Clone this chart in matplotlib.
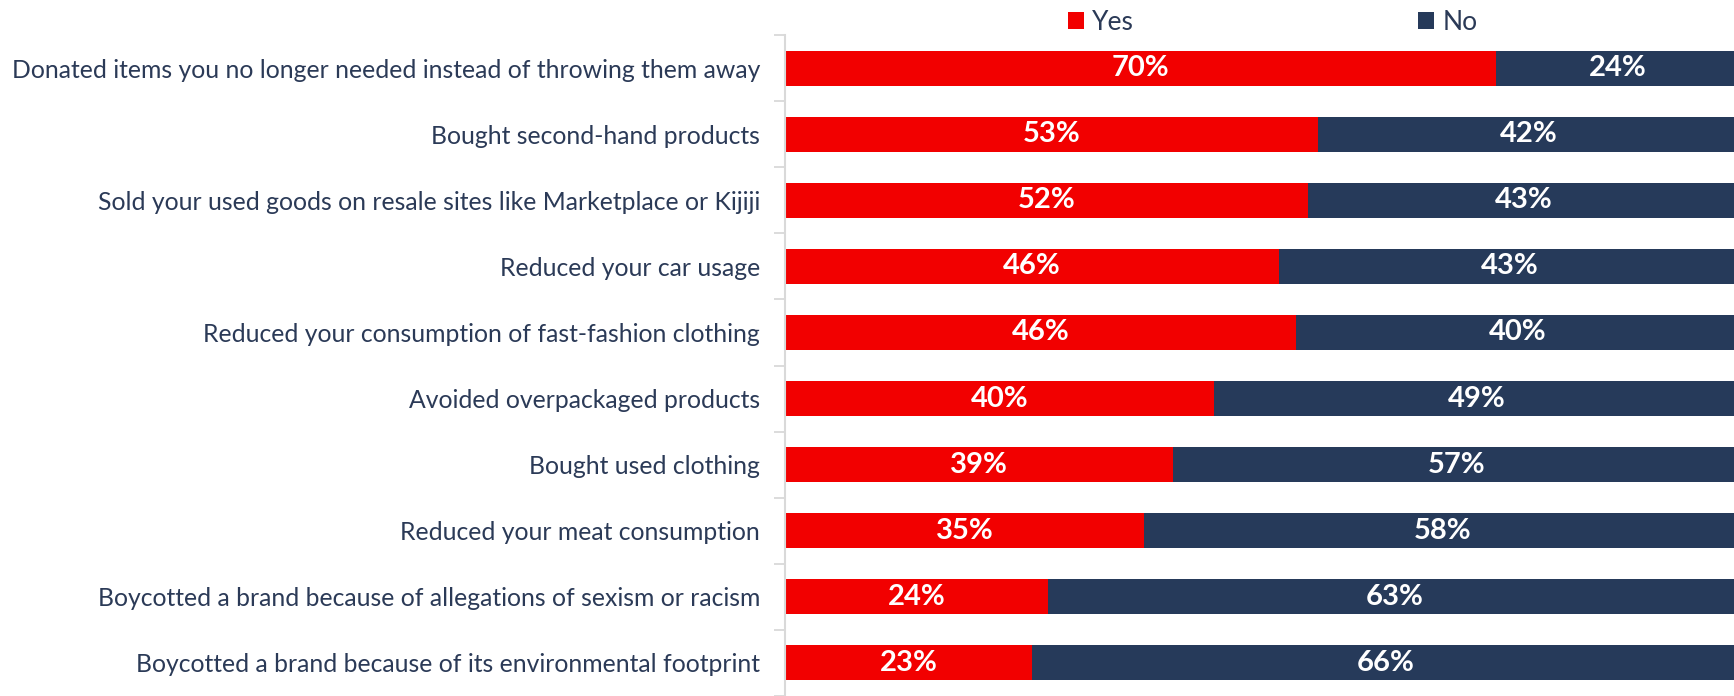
import matplotlib
matplotlib.use("Agg")
import matplotlib.pyplot as plt
import numpy as np
from matplotlib.patches import Patch

categories = [
    "Donated items you no longer needed instead of throwing them away",
    "Bought second-hand products",
    "Sold your used goods on resale sites like Marketplace or Kijiji",
    "Reduced your car usage",
    "Reduced your consumption of fast-fashion clothing",
    "Avoided overpackaged products",
    "Bought used clothing",
    "Reduced your meat consumption",
    "Boycotted a brand because of allegations of sexism or racism",
    "Boycotted a brand because of its environmental footprint",
]
yes_pct = [70, 53, 52, 46, 46, 40, 39, 35, 24, 23]
no_pct = [24, 42, 43, 43, 40, 49, 57, 58, 63, 66]
series_names = ["Yes", "No"]

RED = "#F20000"
NAVY = "#263A5A"
TEXT = "#2B3A57"
GRID = "#D9D9D9"

plt.rcParams["font.family"] = ["Lato", "DejaVu Sans"]

fig = plt.figure(figsize=(17.34, 6.96), dpi=100)
# plot area runs slightly past the right edge of the canvas
ax = fig.add_axes([0.4527, 0.0, 0.5508, 0.9497])

yes = np.array(yes_pct, dtype=float)
no = np.array(no_pct, dtype=float)
total = yes + no
yes_share = yes / total * 100
no_share = no / total * 100

y = np.arange(len(categories))
h = 0.53
ax.barh(y, yes_share, height=h, color=RED, label=series_names[0])
ax.barh(y, no_share, left=yes_share, height=h, color=NAVY, label=series_names[1])

for i in range(len(categories)):
    ax.text(yes_share[i] / 2, y[i], f"{yes_pct[i]}%", ha="center", va="center",
            color="white", fontsize=21, fontweight="bold")
    ax.text(yes_share[i] + no_share[i] / 2, y[i], f"{no_pct[i]}%", ha="center",
            va="center", color="white", fontsize=21, fontweight="bold")

ax.set_xlim(0, 100)
ax.set_ylim(len(categories) - 0.5, -0.5)
ax.set_yticks(y)
ax.set_yticklabels(categories, fontsize=17.8, color=TEXT)
ax.set_yticks(np.arange(-0.5, len(categories) + 0.5, 1), minor=True)
ax.tick_params(axis="y", which="major", length=0, pad=18)
ax.tick_params(axis="y", which="minor", length=8, width=1.3, color=GRID)
ax.set_xticks([])
for side in ["top", "right", "bottom"]:
    ax.spines[side].set_visible(False)
ax.spines["left"].set_color(GRID)
ax.spines["left"].set_linewidth(1.5)

handles = [Patch(facecolor=RED), Patch(facecolor=NAVY)]
fig.legend(handles, series_names, loc="center", bbox_to_anchor=(0.734, 0.968), ncol=2,
           frameon=False, fontsize=19, handlelength=0.62, handleheight=0.62,
           handletextpad=0.3, columnspacing=10.75, labelcolor=TEXT)

fig.savefig("out.png", dpi=100)
